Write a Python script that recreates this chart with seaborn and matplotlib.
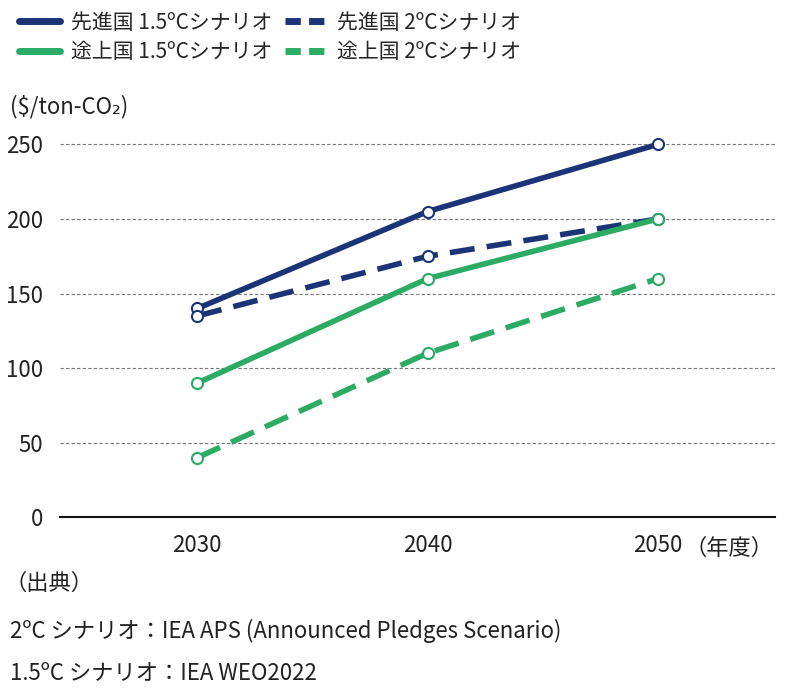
import numpy as np
import pandas as pd
import seaborn as sns
import matplotlib.pyplot as plt

years = [2030, 2040, 2050]
dev_15 = [140, 205, 250]
dev_2 = [135, 175, 200]
devg_15 = [90, 160, 200]
devg_2 = [40, 110, 160]
labels = ["先進国 1.5ºCシナリオ", "先進国 2ºCシナリオ", "途上国 1.5ºCシナリオ", "途上国 2ºCシナリオ"]

navy = "#1b3478"
green = "#2bab63"

sns.set_style("white")
plt.rcParams['font.family'] = ['Noto Sans CJK JP', 'DejaVu Sans']

df = pd.DataFrame({
    "year": years * 4,
    "value": dev_15 + dev_2 + devg_15 + devg_2,
    "series": sum([[l] * 3 for l in labels], []),
})

fig = plt.figure(figsize=(8, 7), dpi=100)
ax = fig.add_axes([0.075, 0.261, 0.894, 0.554])

dash = (0, (4.5, 2.2))
styles = {labels[0]: (navy, "-"), labels[1]: (navy, dash),
          labels[2]: (green, "-"), labels[3]: (green, dash)}
handles = {}
for lab in labels:
    c, ls = styles[lab]
    d = df[df.series == lab]
    sns.lineplot(data=d, x="year", y="value", ax=ax, color=c, lw=4, linestyle=ls,
                 marker="o", markersize=8, markerfacecolor="white",
                 markeredgecolor=c, markeredgewidth=1.5, zorder=3)
    h, = ax.plot([], [], color=c, lw=5, linestyle=(0, (2.2, 1.2)) if ls != "-" else "-")
    handles[lab] = h

ax.set_xlim(2024.04, 2055.1)
ax.set_ylim(0, 260)
ax.set_yticks([0, 50, 100, 150, 200, 250])
ax.set_xticks(years)
for y in [50, 100, 150, 200, 250]:
    ax.axhline(y, color="#777777", lw=0.8, ls=(0, (3, 2)), zorder=1)
ax.tick_params(axis="both", length=0, labelsize=16, colors="#222222")
ax.tick_params(axis="y", pad=12)
ax.tick_params(axis="x", pad=12)
for s in ["top", "right", "left"]:
    ax.spines[s].set_visible(False)
ax.spines["bottom"].set_color("#111111")
ax.spines["bottom"].set_linewidth(1.5)
ax.set_xlabel("")
ax.set_ylabel("")

order = [labels[0], labels[2], labels[1], labels[3]]
fig.legend([handles[l] for l in order], order, loc="upper left", bbox_to_anchor=(0.0, 1.01), ncol=2,
           frameon=False, fontsize=15, handlelength=2.0, columnspacing=0.6,
           handletextpad=0.5, labelspacing=0.35)

fig.text(0.012, 0.838, "($/ton-CO₂)", fontsize=16, color="#222222")
fig.text(0.855, 0.207, "（年度）", fontsize=16, color="#222222")
fig.text(0.005, 0.158, "（出典）", fontsize=16, color="#222222")
fig.text(0.012, 0.088, "2ºC シナリオ：IEA APS (Announced Pledges Scenario)", fontsize=16, color="#222222")
fig.text(0.012, 0.030, "1.5ºC シナリオ：IEA WEO2022", fontsize=16, color="#222222")

fig.savefig("out.png", dpi=100)
